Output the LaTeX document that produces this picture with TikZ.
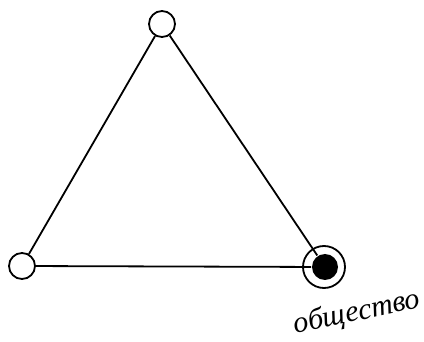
\documentclass[tikz,border=0pt]{standalone}
\usepackage{fontspec}
\newfontfamily\handfont{Liberation Serif}
\begin{document}
\begin{tikzpicture}[x=1pt, y=-1pt, line width=1.8pt,
    every node/.style={inner sep=0pt}]
  \useasboundingbox (0,0) rectangle (424,342);
  \tikzset{vertex/.style={circle, draw, fill=white, minimum size=26pt}}
  \node[vertex] (top) at (162,24) {};
  \node[vertex] (left) at (22,266) {};
  \node[circle, draw, minimum size=42pt] (ring) at (324,267) {};
  \node[circle, fill=black, minimum size=26pt] (right) at (325,267) {};
  \draw (top) -- (left);
  \draw (top) -- (right);
  \draw (left) -- (right);
  % label of the marked vertex
  \node[rotate=12, font=\handfont\itshape\fontsize{30}{32}\selectfont] (soc) at (357,313) {общество};
\end{tikzpicture}
\end{document}
